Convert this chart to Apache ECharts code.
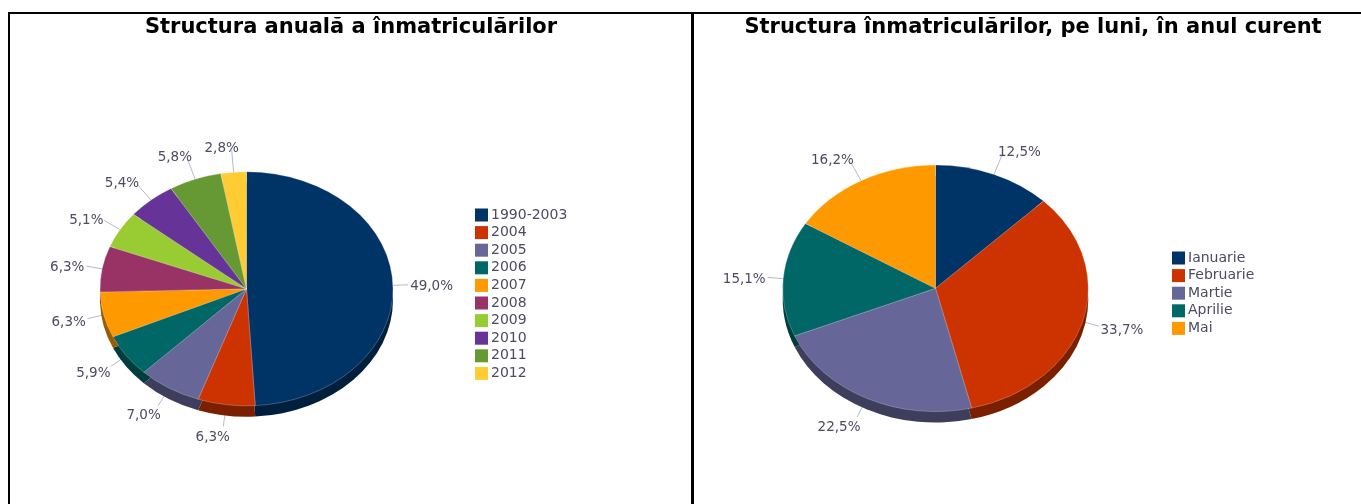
<!DOCTYPE html>
<html>
<head>
<meta charset="utf-8">
<title>Structura înmatriculărilor</title>
<script src="https://cdn.jsdelivr.net/npm/echarts@6/dist/echarts.min.js"></script>
<style>
    body { margin: 0; background: #fff; }
    #main { position: absolute; left: 0; top: 0; width: 1361px; height: 504px; }
    .x-line { position: absolute; background: #000; }
</style>
</head>
<body>
<div id="main"></div>
<div class="x-line" style="left:8px; top:12px; width:1353px; height:2px;"></div>
<div class="x-line" style="left:8px; top:12px; width:2px; height:492px;"></div>
<div class="x-line" style="left:691px; top:12px; width:3px; height:492px;"></div>
<script>
// date pentru graficul din stanga (pe ani)
const yearNames = ['1990-2003', '2004', '2005', '2006', '2007', '2008', '2009', '2010', '2011', '2012'];
const yearValues = [49.0, 6.3, 7.0, 5.9, 6.3, 6.3, 5.1, 5.4, 5.8, 2.8];
const yearColors = ['#003366', '#CC3300', '#666699', '#006666', '#FF9900',
    '#993366', '#99CC33', '#663399', '#669933', '#FFCC33'];

// date pentru graficul din dreapta (pe luni)
const monthNames = ['Ianuarie', 'Februarie', 'Martie', 'Aprilie', 'Mai'];
const monthValues = [12.5, 33.7, 22.5, 15.1, 16.2];
const monthColors = ['#003366', '#CC3300', '#666699', '#006666', '#FF9900'];

const FONT = '"DejaVu Sans", Verdana, sans-serif';
const TEXT_COLOR = '#4b4b63';

/**
 * culoarea mai inchisa pentru peretele lateral al pie-ului 3D
 */
function darken(hex) {
    const n = parseInt(hex.slice(1), 16);
    const r = Math.round(((n >> 16) & 255) * 0.6);
    const g = Math.round(((n >> 8) & 255) * 0.6);
    const b = Math.round((n & 255) * 0.6);
    return 'rgb(' + r + ',' + g + ',' + b + ')';
}

function fmt(v) {
    return v.toFixed(1).replace('.', ',') + '%';
}

/**
 * renderItem pentru un pie eliptic (inclinat) cu adancime
 * geo: cx, cy, rx, ry, depth
 */
function makePieRenderer(values, colors, geo) {
    const total = values.reduce((a, b) => a + b, 0);
    const starts = [];
    let acc = 0;
    values.forEach(v => {
        starts.push(acc);
        acc += v;
    });
    const k = geo.ry / geo.rx;

    return function (params, api) {
        const i = params.dataIndex;
        const v = api.value(0);
        const a0 = (starts[i] / total) * Math.PI * 2;
        const a1 = ((starts[i] + v) / total) * Math.PI * 2;
        const mid = (a0 + a1) / 2;
        const s = Math.sin(mid);
        const c = Math.cos(mid);
        const color = colors[i];

        // punctul de pe margine si capatul liniei de eticheta
        const ex = geo.cx + geo.rx * s;
        const ey = geo.cy - geo.ry * c;
        const len = 15 + 7 * Math.abs(c);
        const ax = ex + len * s;
        const ay = ey - len * c;
        const sign = s >= 0 ? 1 : -1;
        const tx = ax + sign * (2 - (1 - Math.abs(s)) * 10);
        const ty = ay - c * 4 + (c < 0 ? -c * geo.depth * 0.5 : 0) + 2;

        const shape = {
            cx: geo.cx,
            cy: geo.cy,
            r: geo.rx,
            r0: 0,
            startAngle: a0 - Math.PI / 2,
            endAngle: a1 - Math.PI / 2,
            clockwise: true,
        };

        return {
            type: 'group',
            children: [
                {
                    type: 'polyline',
                    shape: { points: [[ex, ey], [ax, ay]] },
                    style: { stroke: '#b2bacd', lineWidth: 1, fill: null },
                    z2: 0,
                },
                {
                    type: 'sector',
                    shape: Object.assign({}, shape, { cy: geo.cy + geo.depth }),
                    originX: geo.cx,
                    originY: geo.cy + geo.depth,
                    scaleY: k,
                    style: { fill: darken(color) },
                    z2: 1,
                },
                {
                    type: 'sector',
                    shape: shape,
                    originX: geo.cx,
                    originY: geo.cy,
                    scaleY: k,
                    style: {
                        fill: color,
                        stroke: 'rgba(255,255,255,0.45)',
                        lineWidth: 0.6,
                        strokeNoScale: true,
                    },
                    z2: 5,
                },
                {
                    type: 'text',
                    x: tx,
                    y: ty,
                    style: {
                        text: fmt(v),
                        fill: TEXT_COLOR,
                        font: '13.5px ' + FONT,
                        align: s >= 0 ? 'left' : 'right',
                        verticalAlign: 'middle',
                    },
                    z2: 6,
                },
            ],
        };
    };
}

// pie invizibil, doar pentru legenda
function legendSeries(names, colors) {
    return {
        type: 'pie',
        radius: [0, 0],
        center: [-100, -100],
        silent: true,
        label: { show: false },
        labelLine: { show: false },
        data: names.map((n, i) => ({ name: n, value: 1, itemStyle: { color: colors[i] } })),
    };
}

function legendOpt(names, left, top) {
    return {
        orient: 'vertical',
        left: left,
        top: top,
        padding: 0,
        icon: 'rect',
        itemWidth: 13,
        itemHeight: 13,
        itemGap: 3.6,
        selectedMode: false,
        itemStyle: { borderWidth: 0 },
        textStyle: { fontSize: 14, color: TEXT_COLOR, fontFamily: FONT, padding: [0, 0, 0, -2] },
        data: names,
    };
}

const titleStyle = { fontSize: 21, fontWeight: 'bold', color: '#000', fontFamily: FONT };

const chart = echarts.init(document.getElementById('main'));

const option = {
    animation: false,
    title: [
        {
            text: 'Structura anuală a înmatriculărilor',
            left: 351,
            top: 17,
            textAlign: 'center',
            padding: 0,
            textStyle: titleStyle,
        },
        {
            text: 'Structura înmatriculărilor, pe luni, în anul curent',
            left: 1033,
            top: 17,
            textAlign: 'center',
            padding: 0,
            textStyle: titleStyle,
        },
    ],
    legend: [legendOpt(yearNames, 475, 208), legendOpt(monthNames, 1172, 251)],
    series: [
        legendSeries(yearNames, yearColors),
        legendSeries(monthNames, monthColors),
        {
            name: 'anual',
            type: 'custom',
            coordinateSystem: 'none',
            renderItem: makePieRenderer(yearValues, yearColors,
                { cx: 246.5, cy: 288.8, rx: 146.5, ry: 117, depth: 11 }),
            data: yearValues,
        },
        {
            name: 'lunar',
            type: 'custom',
            coordinateSystem: 'none',
            renderItem: makePieRenderer(monthValues, monthColors,
                { cx: 935.5, cy: 288.3, rx: 152.8, ry: 123.3, depth: 11 }),
            data: monthValues,
        },
    ],
};

chart.setOption(option);
</script>
</body>
</html>
